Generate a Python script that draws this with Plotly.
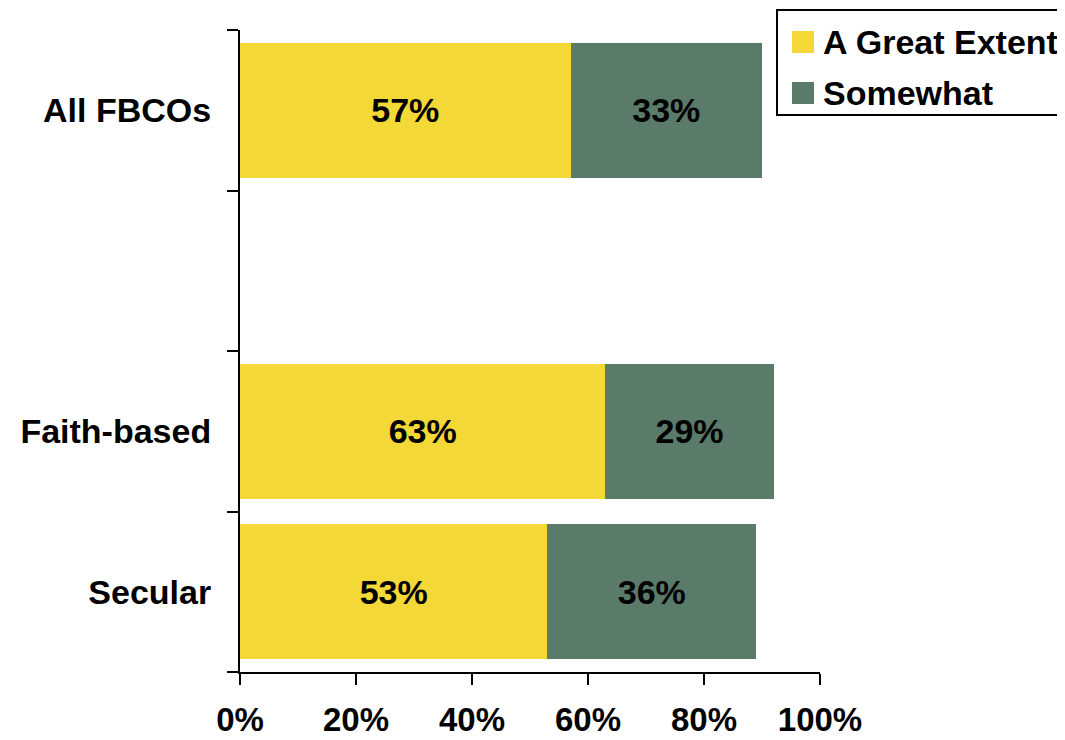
import plotly.graph_objects as go

# ---- data ----
categories = ["Secular", "Faith-based", " ", "All FBCOs"]
great_extent = [53, 63, 0, 57]
somewhat = [36, 29, 0, 33]
series_names = ["A Great Extent", "Somewhat"]
x_tickvals = [0, 20, 40, 60, 80, 100]
x_ticktext = ["0%", "20%", "40%", "60%", "80%", "100%"]

YELLOW = "#F4D838"
GREEN = "#5A7A6A"
FONT = "Liberation Sans, Arial, sans-serif"

OFF = 8  # page body margin
W, H = 1065 - OFF, 740 - OFF
L, T = 240 - OFF, 30 - OFF
PW, PH = 580, 642
R, B = W - L - PW, H - T - PH


def px_x(p):
    return (p - OFF - L) / PW


def px_y(p):
    return (T + PH - (p - OFF)) / PH


def labels(vals):
    return [f"{v}%" if v else "" for v in vals]


fig = go.Figure()
for name, vals, col in [(series_names[0], great_extent, YELLOW),
                        (series_names[1], somewhat, GREEN)]:
    fig.add_trace(go.Bar(
        y=categories, x=vals, name=name, orientation="h",
        marker=dict(color=col, line=dict(width=0)),
        text=labels(vals), textposition="inside", insidetextanchor="middle",
        textangle=0, constraintext="none",
        textfont=dict(family=FONT, size=34, color="black", weight="bold"),
        showlegend=False, hoverinfo="skip",
    ))

fig.update_layout(
    width=W, height=H,
    margin=dict(l=L, r=R, t=T, b=B, pad=0, autoexpand=False),
    barmode="stack", bargap=0.16,
    plot_bgcolor="white", paper_bgcolor="white",
    font=dict(family=FONT, color="black"),
    showlegend=False,
)
fig.update_xaxes(
    automargin=False,
    range=[0, 100], tickvals=x_tickvals, ticktext=x_ticktext,
    showgrid=False, zeroline=False,
    showline=True, linecolor="black", linewidth=2,
    ticks="outside", ticklen=11, tickwidth=2, tickcolor="black",
    tickfont=dict(family=FONT, size=33, color="black", weight="bold"),
    ticklabelstandoff=6,
)
fig.update_yaxes(
    automargin=False,
    categoryorder="array", categoryarray=categories,
    range=[-0.5, 3.5], tickson="boundaries",
    showgrid=False, zeroline=False,
    showline=True, linecolor="black", linewidth=2,
    ticks="outside", ticklen=11, tickwidth=2, tickcolor="black",
    tickfont=dict(family=FONT, size=34, color="black", weight="bold"),
    ticklabelstandoff=20,
)

# legend drawn manually (box, swatches, text)
shapes = [dict(type="rect", xref="paper", yref="paper",
               x0=px_x(777), x1=px_x(1062), y0=px_y(115), y1=px_y(10),
               line=dict(color="black", width=2), fillcolor="white")]
annotations = []
for i, (name, col) in enumerate(zip(series_names, [YELLOW, GREEN])):
    cy = 42 + i * 51
    shapes.append(dict(type="rect", xref="paper", yref="paper",
                       x0=px_x(792), x1=px_x(814),
                       y0=px_y(cy + 11), y1=px_y(cy - 11),
                       line=dict(width=0), fillcolor=col))
    annotations.append(dict(xref="paper", yref="paper",
                            x=px_x(821), y=px_y(cy), text=name,
                            showarrow=False, xanchor="left", yanchor="middle",
                            font=dict(family=FONT, size=34, color="black",
                                      weight="bold")))
fig.update_layout(shapes=shapes, annotations=annotations)

fig.write_html("out.html")
